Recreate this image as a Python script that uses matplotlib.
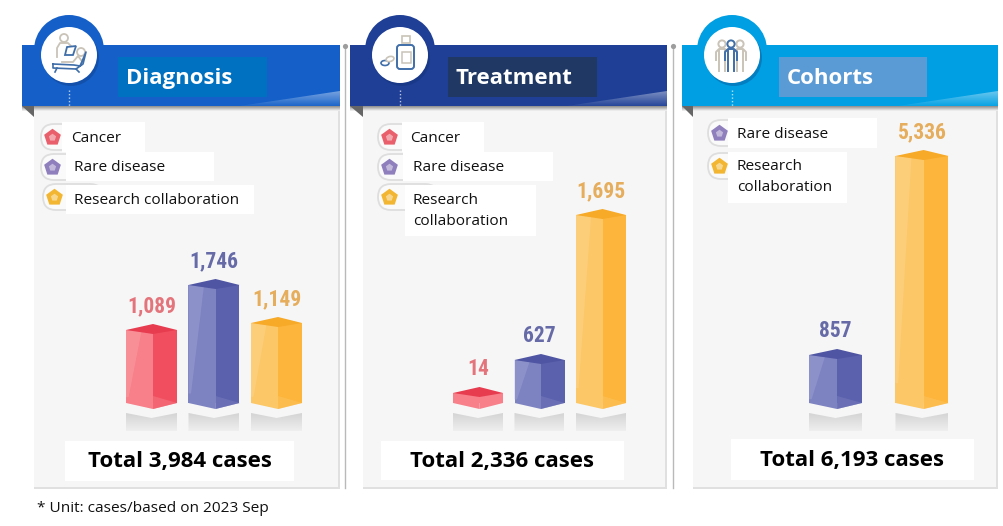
import numpy as np
import matplotlib
matplotlib.use("Agg")
import matplotlib.pyplot as plt
from matplotlib.patches import Circle, Ellipse, FancyBboxPatch, Polygon, Rectangle

W, H = 1004, 526

# Values printed above the bars
diagnosis_categories = ["Cancer", "Rare disease", "Research collaboration"]
diagnosis_values = [1089, 1746, 1149]
treatment_categories = ["Cancer", "Rare disease", "Research\ncollaboration"]
treatment_values = [14, 627, 1695]
cohorts_categories = ["Rare disease", "Research\ncollaboration"]
cohorts_values = [857, 5336]

# The bars in the picture are not to scale between values, so the drawn
# heights are read off separately
diagnosis_heights = [73, 118, 80]
treatment_heights = [10, 43, 188]
cohorts_heights = [48, 247]

# Face colours: top, left, right, highlight, label
BAR_STYLE = {
    "Cancer": ("#e73c50", "#f7808a", "#f14f5f", "#fba3a9", "#e4747c"),
    "Rare disease": ("#4f55a2", "#7d82c1", "#5b61ac", "#a0a4d4", "#666ba8"),
    "Research collaboration": ("#f7a928", "#fcc766", "#fdb53c", "#fdd894", "#e5ad5c"),
}
MARKER_COLORS = {"Cancer": "#e9606c", "Rare disease": "#8f7fbd", "Research collaboration": "#f2b632"}

BODY = "#f6f6f6"
TEXT_FONT = ["Open Sans", "DejaVu Sans"]
NUM_FONT = ["Roboto Condensed", "Roboto", "DejaVu Sans"]

plt.rcParams["font.family"] = TEXT_FONT

fig = plt.figure(figsize=(W / 100, H / 100), dpi=100)
bg = fig.add_axes([0, 0, 1, 1])
bg.set_xlim(0, W)
bg.set_ylim(H, 0)
bg.axis("off")


def gradient_poly(ax, verts, c_top, c_bottom, zorder=2):
    # vertical gradient clipped to a polygon
    verts = np.array(verts, dtype=float)
    x0, x1 = verts[:, 0].min(), verts[:, 0].max()
    y0, y1 = verts[:, 1].min(), verts[:, 1].max()
    t = np.linspace(0, 1, 64)[:, None, None]
    img = (1 - t) * np.array(matplotlib.colors.to_rgba(c_top)) + t * np.array(matplotlib.colors.to_rgba(c_bottom))
    im = ax.imshow(img, extent=(x0, x1, y1, y0), aspect="auto", zorder=zorder, interpolation="bilinear")
    patch = Polygon(verts, closed=True, transform=ax.transData, fill=False, edgecolor="none")
    ax.add_patch(patch)
    im.set_clip_path(patch)


def draw_panel(title, x0, x1, body_x, header_color, title_box, title_box_color, icon_x):
    # body with soft shadow on the right and bottom
    bg.add_patch(Rectangle((body_x, 107), x1 - body_x, 382, fc="#e0e0e0", ec="none", zorder=1))
    bg.add_patch(Rectangle((body_x, 106), x1 - body_x - 2, 381, fc=BODY, ec="none", zorder=1.1))
    # header
    gradient_poly(bg, [(x0, 106), (x1, 106), (x1, 111), (x0, 111)], "#8a8a8a", BODY, zorder=1.5)
    bg.add_patch(Polygon([(x0, 106), (body_x, 106), (body_x, 117)], fc="#666666", ec="none", zorder=1.6))
    bg.add_patch(Circle((icon_x, 50), 35, fc=header_color, ec="none", zorder=2))
    bg.add_patch(Rectangle((x0, 45), x1 - x0, 61, fc=header_color, ec="none", zorder=2))
    gradient_poly(bg, [(x1 - 100, 106), (x1, 91), (x1, 106)], (1, 1, 1, 0.42), (1, 1, 1, 0.04), zorder=2.1)
    bg.add_patch(Rectangle(title_box[:2], title_box[2], title_box[3], fc=title_box_color, ec="none", zorder=2.2))
    bg.text(title_box[0] + 8, title_box[1] + 21.5, title, color="white", fontsize=16, fontweight="bold",
            va="center", ha="left", zorder=3)
    # icon disc
    bg.add_patch(Circle((icon_x + 2, 58), 28, fc="#0b2a66", alpha=0.28, ec="none", zorder=2.3))
    bg.add_patch(Circle((icon_x, 55), 28, fc="white", ec="none", zorder=2.4))
    bg.plot([icon_x, icon_x], [90, 106], color="white", lw=1, ls=(0, (1, 1.5)), alpha=0.7, zorder=2.4)


def draw_legend(cats, marker_xy, text_boxes, text_xy):
    for cat, (mx, my), box, (tx, ty) in zip(cats, marker_xy, text_boxes, text_xy):
        key = cat.replace("\n", " ")
        bg.add_patch(FancyBboxPatch((mx - 11, my - 13), 60, 26, boxstyle="round,pad=0,rounding_size=13",
                                    fc="#fafafa", ec="#dedede", lw=1.3, zorder=3))
        bg.scatter([mx], [my], s=160, marker="p", color=MARKER_COLORS[key], zorder=3.1, linewidths=0)
        bg.scatter([mx], [my], s=30, marker="p", color="white", alpha=0.45, zorder=3.2, linewidths=0)
        bg.add_patch(Rectangle(box[:2], box[2], box[3], fc="white", ec="none", zorder=3.3))
        bg.text(tx, ty, cat, fontsize=11.1, color="#111111", va="center", ha="left", zorder=3.4,
                linespacing=1.52)


def draw_bars(cats, values, heights, first_center, spacing, bar_w, base_y=403):
    # one axes per panel: y in drawn units, x by category position
    n = len(cats)
    left = first_center - 0.6 * spacing
    width = (n - 1 + 1.2) * spacing
    ymin, ymax = -10, 280
    ax = fig.add_axes([left / W, (H - base_y - 10) / H, width / W, (ymax - ymin) / H])
    ax.set_xlim(-0.6, n - 1 + 0.6)
    ax.set_ylim(ymin, ymax)
    ax.axis("off")
    ax.patch.set_visible(False)
    w = bar_w / spacing
    for i, (cat, v, h) in enumerate(zip(cats, values, heights)):
        key = cat.replace("\n", " ")
        top, lft, rgt, hi, lab = BAR_STYLE[key]
        short = h <= 15
        if short:
            rgt = lft
        xl, xr, xm = i - w / 2, i + w / 2, i + w * 0.03
        # reflection under the bar
        cx = first_center + i * spacing
        gradient_poly(bg, [(cx - bar_w / 2, base_y + 10), (cx, base_y + 15), (cx + bar_w / 2, base_y + 10),
                           (cx + bar_w / 2, base_y + 28), (cx - bar_w / 2, base_y + 28)],
                      "#d4d4d4", "#efefef", zorder=1.3)
        ax.bar(i + w * 0.03 - (w * 0.53) / 2, h, width=w * 0.53, color=lft, linewidth=0, zorder=2)
        ax.bar(i + w * 0.03 + (w * 0.47) / 2, h, width=w * 0.47, color=rgt, linewidth=0, zorder=2)
        # bottom point
        ax.fill([xl, xm, xm], [0, -6, 0], color=lft, linewidth=0, zorder=2)
        ax.fill([xm, xr, xm], [-6, 0, 0], color=rgt, linewidth=0, zorder=2)
        if not short:
            # glossy wedge on the left face, lighter band low on the right face
            ax.fill([xl, xl + w * 0.3, xl + w * 0.05, xl], [h, h - 2, h * 0.08, h * 0.08],
                    color=hi, alpha=0.45, linewidth=0, zorder=2.2)
            ax.fill([xm, xr, xm], [-6, 0, 7], color=lft, alpha=0.45, linewidth=0, zorder=2.2)
        ax.fill([xl, xm, xr, xm], [h, h + 6, h, h - 4], color=top, linewidth=0, zorder=3)
        ax.text(i, h + 24, f"{v:,}", color=lab, fontsize=15.5, fontweight="bold", family=NUM_FONT,
                ha="center", va="center", zorder=4)


def draw_total(box, total):
    bg.add_patch(Rectangle(box[:2], box[2], box[3], fc="white", ec="none", zorder=3))
    bg.text(box[0] + box[2] / 2, box[1] + box[3] / 2 + 1, f"Total {total:,} cases", fontsize=16, fontweight="bold",
            color="black", ha="center", va="center", zorder=3.2)


# separators between the panels
for sx in [345, 673]:
    bg.plot([sx, sx], [46, 488], color="#b9b9b9", lw=1, zorder=0.5)
    bg.scatter([sx], [46], s=14, color="#9d9d9d", zorder=0.6, linewidths=0)

draw_panel("Diagnosis", 22, 340, 34, "#1560c8", (118, 57, 149, 40), "#0070c0", 69)
draw_panel("Treatment", 350, 667, 363, "#1f3f96", (448, 57, 149, 40), "#1f3864", 400)
draw_panel("Cohorts", 682, 998, 693, "#009fe3", (779, 57, 148, 40), "#5b9bd5", 732)

draw_legend(diagnosis_categories, [(52, 137), (52, 167), (54, 197)],
            [(62, 122, 83, 30), (66, 152, 148, 29), (66, 185, 188, 29)],
            [(71, 138), (74, 167.5), (74, 201)])
draw_legend(treatment_categories, [(389, 137), (389, 167), (389, 197)],
            [(402, 122, 82, 30), (403, 152, 150, 29), (405, 185, 131, 51)],
            [(410, 138), (413, 167.5), (413, 211)])
draw_legend(cohorts_categories, [(719, 133), (719, 166)],
            [(728, 118, 149, 30), (728, 152, 119, 51)],
            [(737, 134), (737, 177)])

draw_bars(diagnosis_categories, diagnosis_values, diagnosis_heights, 151.5, 62.5, 51)
draw_bars(treatment_categories, treatment_values, treatment_heights, 478, 61.5, 50)
draw_bars(cohorts_categories, cohorts_values, cohorts_heights, 835.5, 86.5, 53)

draw_total((65, 441, 229, 40), sum(diagnosis_values))
draw_total((381, 441, 243, 39), sum(treatment_values))
draw_total((731, 439, 243, 41), sum(cohorts_values))

bg.text(37, 508, "* Unit: cases/based on 2023 Sep", fontsize=11.1, color="#111111", va="center", ha="left")

# icons, rough line drawings
NAVY = "#3f6ea8"
TAN = "#c9c3b8"
Z = 2.6
# diagnosis: doctor and patient on a couch
bg.add_patch(Circle((64, 38), 4, fc="none", ec=TAN, lw=1.3, zorder=Z))
bg.plot([57, 57, 60, 68, 71], [57, 48, 43, 43, 46], color=TAN, lw=1.3, zorder=Z)
bg.add_patch(Polygon([(67, 47), (76, 46), (73, 55), (65, 55)], fc="white", ec=NAVY, lw=1.3, zorder=Z))
bg.add_patch(Circle((81, 52), 4, fc="none", ec=TAN, lw=1.3, zorder=Z))
bg.plot([62, 73, 78, 81], [62, 62, 56, 60], color=TAN, lw=1.3, zorder=Z)
bg.plot([53, 74, 80, 86, 83, 76, 53, 53], [64, 65, 66, 52, 64, 69, 68, 64], color=NAVY, lw=1.2, zorder=Z)
bg.plot([57, 55], [68, 72], color=NAVY, lw=1.2, zorder=Z)
bg.plot([76, 79], [69, 72], color=NAVY, lw=1.2, zorder=Z)
# treatment: bottle and pills
bg.add_patch(Rectangle((402, 36), 8, 7, fc="white", ec=TAN, lw=1.2, zorder=Z))
bg.add_patch(FancyBboxPatch((397, 45), 17, 24, boxstyle="round,pad=0,rounding_size=3", fc="white", ec=NAVY, lw=1.4, zorder=Z))
bg.add_patch(Rectangle((402, 52), 9, 11, fc="white", ec=TAN, lw=1.1, zorder=Z))
bg.add_patch(Ellipse((385, 63), 8, 5, fc="white", ec=NAVY, lw=1.2, zorder=Z))
bg.add_patch(Ellipse((390, 59), 8, 5, angle=-15, fc="white", ec=TAN, lw=1.2, zorder=Z))
# cohorts: three people
for px, col in [(722, TAN), (740, TAN), (731, NAVY)]:
    bg.add_patch(Circle((px, 44), 3.6, fc="white", ec=col, lw=1.4, zorder=Z + (col == NAVY)))
    bg.plot([px - 6, px - 6, px - 3, px + 3, px + 6, px + 6], [60, 52, 49, 49, 52, 60],
            color=col, lw=1.4, zorder=Z + (col == NAVY))
    bg.plot([px - 3, px - 3], [50, 71], color=col, lw=1.4, zorder=Z + (col == NAVY))
    bg.plot([px + 3, px + 3], [50, 71], color=col, lw=1.4, zorder=Z + (col == NAVY))

bg.set_xlim(0, W)
bg.set_ylim(H, 0)
fig.savefig("out.png", dpi=100, facecolor="white")
